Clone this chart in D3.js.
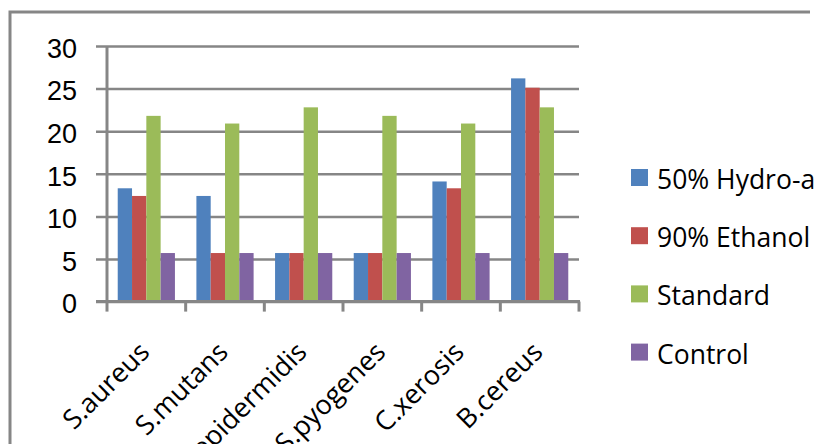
<!DOCTYPE html>
<html>
<head>
<meta charset="utf-8">
<script src="https://cdnjs.cloudflare.com/ajax/libs/d3/7.8.5/d3.min.js"></script>
<style>
    body { margin: 0; background: #fff; }
    svg { display: block; font-family: "Open Sans", "Noto Sans", sans-serif; }
</style>
</head>
<body>
<div id="chart-area"></div>
<script>
    'use strict';

    // data
    const categories = ["S.aureus", "S.mutans", "S.epidermidis", "S.pyogenes", "C.xerosis", "B.cereus"];
    const seriesNames = ["50% Hydro-alcohol", "90% Ethanol", "Standard", "Control"];
    const hydroAlcohol = [13.3, 12.4, 5.7, 5.7, 14.1, 26.2];
    const ethanol = [12.4, 5.7, 5.7, 5.7, 13.3, 25.1];
    const standard = [21.8, 20.9, 22.8, 21.8, 20.9, 22.8];
    const control = [5.7, 5.7, 5.7, 5.7, 5.7, 5.7];
    const yTicks = [0, 5, 10, 15, 20, 25, 30];

    const colors = ["#4F81BD", "#C0504D", "#9BBB59", "#8064A2"];
    const GREY = "#868686";

    const W = 816, H = 444;
    const PLOT = {LEFT: 107, RIGHT: 579, TOP: 46, BOTTOM: 301.6};

    const values = [hydroAlcohol, ethanol, standard, control];
    const rows = categories.map((c, i) => ({
        cat: c,
        vals: seriesNames.map((s, k) => ({series: s, value: values[k][i]}))
    }));

    const svg = d3.select("#chart-area").append("svg")
        .attr("width", W)
        .attr("height", H);

    // outer chart border (only top and left are visible)
    svg.append("path")
        .attr("d", `M10,${H + 5} L10,12 L810,12`)
        .attr("fill", "none")
        .attr("stroke", GREY)
        .attr("stroke-width", 3);

    // scales
    const xScale = d3.scaleBand()
        .domain(categories)
        .range([PLOT.LEFT, PLOT.RIGHT])
        .paddingInner(0)
        .paddingOuter(0);

    const xSub = d3.scaleBand()
        .domain(seriesNames)
        .range([0, xScale.bandwidth()])
        .paddingInner(0)
        .paddingOuter(0.75);

    const yScale = d3.scaleLinear()
        .domain([0, 30])
        .range([PLOT.BOTTOM, PLOT.TOP]);

    // gridlines + y labels
    const yAxisCall = d3.axisLeft(yScale)
        .tickValues(yTicks)
        .tickSize(-(PLOT.RIGHT - PLOT.LEFT) - 11)
        .tickPadding(19);

    const yAxis = svg.append("g")
        .attr("transform", `translate(${PLOT.LEFT - 11}, 0)`)
        .call(yAxisCall);
    yAxis.select(".domain").remove();
    yAxis.selectAll(".tick line")
        .attr("stroke", GREY)
        .attr("stroke-width", 2.5);
    yAxis.selectAll(".tick text")
        .attr("fill", "#000")
        .attr("dy", "0.42em")
        .style("font-size", "27px");

    // bars
    const groups = svg.append("g").selectAll("g")
        .data(rows)
        .join("g")
        .attr("transform", d => `translate(${xScale(d.cat)}, 0)`);

    groups.selectAll("rect")
        .data(d => d.vals)
        .join("rect")
        .attr("x", d => xSub(d.series))
        .attr("y", d => yScale(d.value))
        .attr("width", xSub.bandwidth())
        .attr("height", d => yScale(0) - yScale(d.value))
        .attr("fill", (d, i) => colors[i]);

    // y axis line
    svg.append("line")
        .attr("x1", PLOT.LEFT).attr("x2", PLOT.LEFT)
        .attr("y1", PLOT.TOP).attr("y2", PLOT.BOTTOM)
        .attr("stroke", GREY)
        .attr("stroke-width", 3);

    // x axis with boundary ticks
    const xAxis = svg.append("g")
        .attr("transform", `translate(0, ${PLOT.BOTTOM})`);
    xAxis.append("line")
        .attr("x1", PLOT.LEFT - 11).attr("x2", PLOT.RIGHT + 1)
        .attr("stroke", GREY)
        .attr("stroke-width", 3);
    const bounds = categories.map(c => xScale(c)).concat([PLOT.RIGHT]);
    xAxis.selectAll(".bound")
        .data(bounds)
        .join("line")
        .attr("class", "bound")
        .attr("x1", d => d).attr("x2", d => d)
        .attr("y1", 0).attr("y2", 10)
        .attr("stroke", GREY)
        .attr("stroke-width", 3);

    // rotated category labels (the long ones run off the bottom, as in the original)
    svg.append("g").selectAll("text")
        .data(categories)
        .join("text")
        .attr("transform", d => `translate(${xScale(d) + xScale.bandwidth() / 2 - 2}, 347) rotate(-45)`)
        .attr("text-anchor", "end")
        .attr("dy", "0.35em")
        .style("font-size", "27px")
        .text(d => d);

    // legend
    const legend = svg.append("g").selectAll("g")
        .data(seriesNames)
        .join("g")
        .attr("transform", (d, i) => `translate(631, ${177.5 + i * 58.2})`);

    legend.append("rect")
        .attr("x", 0).attr("y", -8.5)
        .attr("width", 17).attr("height", 17)
        .attr("fill", (d, i) => colors[i]);

    legend.append("text")
        .attr("x", 26)
        .attr("y", 11.5)
        .style("font-size", "26.5px")
        .text(d => d);
</script>
</body>
</html>
